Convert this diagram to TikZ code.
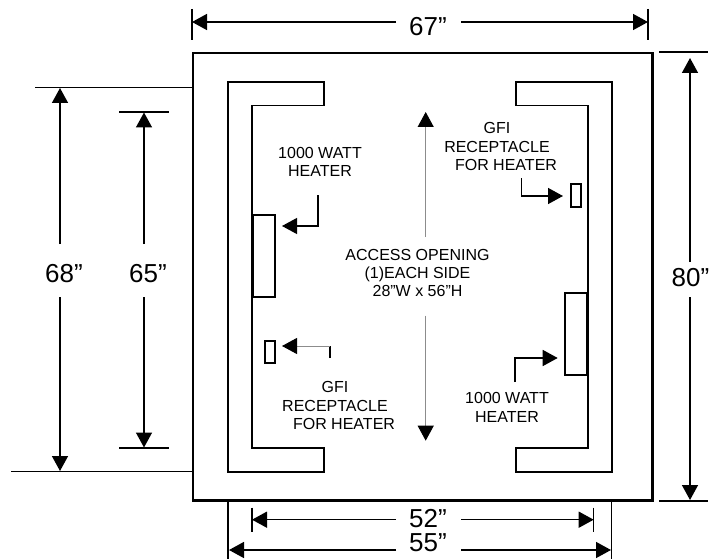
\documentclass[tikz,border=0pt]{standalone}
\usepackage{fontspec}
\setmainfont{Liberation Sans}
\usetikzlibrary{arrows.meta}
\tikzset{
  wall/.style={draw=black,line width=1.8pt,line join=miter},
  outerwall/.style={draw=black,line width=2.4pt},
  extline/.style={draw=black,line width=1.5pt},
  fixture/.style={draw=black,line width=1.8pt,inner sep=0pt,outer sep=0pt},
  dim/.style={draw=black,line width=1.5pt,-{Triangle[length=15pt,width=16pt]}},
  lead/.style={draw=black,line width=1pt,-{Triangle[length=15pt,width=16pt]}},
  graylead/.style={draw=black!45,line width=1pt,-{Triangle[length=15pt,width=16pt,color=black,fill=black]}},
  dimtext/.style={font=\fontsize{26}{26}\selectfont,inner sep=0pt},
  note/.style={font=\fontsize{16}{18.3}\selectfont,align=center,inner sep=0pt},
}
\begin{document}
\begin{tikzpicture}[x=1pt,y=-1pt]
\useasboundingbox (0,0) rectangle (709,559);
% walls
\draw[outerwall] (193,53) rectangle (652.5,500.5);
\draw[wall] (228,82) -- (324,82) -- (324,105.5) -- (252,105.5) -- (252,448) -- (324,448) -- (324,471.7) -- (228,471.7) -- cycle;
\draw[wall] (515.7,82) -- (611.7,82) -- (611.7,471.7) -- (515.7,471.7) -- (515.7,448) -- (588,448) -- (588,105.5) -- (515.7,105.5) -- cycle;
% heaters and receptacles
\node[fixture,minimum width=21.5pt,minimum height=81.7pt] (heaterL) at (264,256) {};
\node[fixture,minimum width=22pt,minimum height=82.3pt] (heaterR) at (575.8,333.8) {};
\node[fixture,minimum width=10pt,minimum height=22.6pt] (recL) at (270,352) {};
\node[fixture,minimum width=10pt,minimum height=23pt] (recR) at (576,195.5) {};
% extension lines
\coordinate (e68t) at (35,87.5);   \coordinate (e68tb) at (193,87.5);
\coordinate (e68b) at (11,471.7);  \coordinate (e68bb) at (193,471.7);
\coordinate (e65t) at (119,112);   \coordinate (e65tb) at (169,112);
\coordinate (e65b) at (119,448);   \coordinate (e65bb) at (169,448);
\coordinate (e80t) at (659,52);    \coordinate (e80tb) at (708,52);
\coordinate (e80b) at (659,501);   \coordinate (e80bb) at (708,501);
\coordinate (t67a) at (192,9);     \coordinate (t67b) at (192,40);
\coordinate (t67c) at (648,9);     \coordinate (t67d) at (648,40);
\coordinate (t52a) at (252,507.7); \coordinate (t52b) at (252,532);
\coordinate (t52c) at (593.7,507.7); \coordinate (t52d) at (593.7,532);
\coordinate (t55a) at (228,500.5); \coordinate (t55b) at (228,559);
\coordinate (t55c) at (611.7,500.5); \coordinate (t55d) at (611.7,559);
\draw[extline] (e68t) -- (e68tb);
\draw[extline] (e68b) -- (e68bb);
\draw[extline] (e65t) -- (e65tb);
\draw[extline] (e65b) -- (e65bb);
\draw[extline] (e80t) -- (e80tb);
\draw[extline] (e80b) -- (e80bb);
\draw[extline] (t67a) -- (t67b);
\draw[extline] (t67c) -- (t67d);
\draw[extline] (t52a) -- (t52b);
\draw[extline] (t52c) -- (t52d);
\draw[extline] (t55a) -- (t55b);
\draw[extline] (t55c) -- (t55d);
% dimension labels
\node[dimtext] (d67) at (428,27) {67”};
\node[dimtext] (d68) at (64,274) {68"};
\node[dimtext] (d65) at (148,274) {65"};
\node[dimtext] (d80) at (690.5,278) {80”};
\node[dimtext] (d52) at (428,518.5) {52”};
\node[dimtext] (d55) at (428,542.5) {55”};
% dimension arrows
\coordinate (a67l) at (396,22);  \coordinate (a67lt) at (192,22);
\coordinate (a67r) at (461,22);  \coordinate (a67rt) at (648,22);
\coordinate (a52l) at (396,519.7); \coordinate (a52lt) at (252,519.7);
\coordinate (a52r) at (461,519.7); \coordinate (a52rt) at (593.7,519.7);
\coordinate (a55l) at (396,550); \coordinate (a55lt) at (229,550);
\coordinate (a55r) at (461,550); \coordinate (a55rt) at (611,550);
\coordinate (a68u) at (60,244);  \coordinate (a68ut) at (60,88);
\coordinate (a68d) at (60,297);  \coordinate (a68dt) at (60,471);
\coordinate (a65u) at (144,244); \coordinate (a65ut) at (144,112.5);
\coordinate (a65d) at (144,297); \coordinate (a65dt) at (144,447.5);
\coordinate (a80u) at (690,262); \coordinate (a80ut) at (690,58);
\coordinate (a80d) at (690,297); \coordinate (a80dt) at (690,500);
\foreach \a/\b in {a67l/a67lt,a67r/a67rt,a52l/a52lt,a52r/a52rt,a55l/a55lt,a55r/a55rt,a68u/a68ut,a68d/a68dt,a65u/a65ut,a65d/a65dt,a80u/a80ut,a80d/a80dt}
  \draw[dim] (\a) -- (\b);
% notes
\node[note] (n1) at (320,162) {1000 WATT\\HEATER};
\node[note] (n2) at (497,146.5) {GFI\\RECEPTACLE\\\hspace*{18pt}FOR HEATER};
\node[note] (n3) at (417.5,273) {ACCESS OPENING\\(1)EACH SIDE\\28"W x 56"H};
\node[note] (n4) at (335,405.5) {GFI\\RECEPTACLE\\\hspace*{18pt}FOR HEATER};
\node[note] (n5) at (507,407.5) {1000 WATT\\HEATER};
% access arrows
\coordinate (acu) at (425.7,237); \coordinate (acut) at (425.7,112);
\coordinate (acd) at (425.7,315.7); \coordinate (acdt) at (425.7,440.7);
\draw[graylead] (acu) -- (acut);
\draw[graylead] (acd) -- (acdt);
% leaders
\coordinate (l1) at (318,195);  \coordinate (l1t) at (282,226);
\coordinate (l2) at (330,358);  \coordinate (l2a) at (330,346); \coordinate (l2t) at (282,346);
\coordinate (l3) at (521.7,178); \coordinate (l3t) at (563,196);
\coordinate (l4) at (515,382);  \coordinate (l4t) at (557.7,358);
\draw[lead,line width=1.2pt] (l1) |- (l1t);
\draw[line width=1.2pt] (l2) -- (l2a);
\draw[graylead] (l2a) -- (l2t);
\draw[lead,line width=1.5pt] (l3) |- (l3t);
\draw[lead,line width=1.5pt] (l4) |- (l4t);
\end{tikzpicture}
\end{document}
